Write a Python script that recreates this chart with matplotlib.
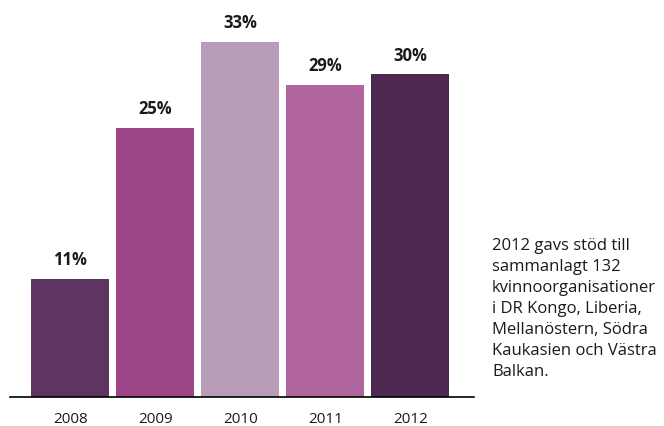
import matplotlib
matplotlib.use('Agg')
import matplotlib.pyplot as plt

years = ['2008', '2009', '2010', '2011', '2012']
shares = [11, 25, 33, 29, 30]
colors = ['#5e3560', '#9c4589', '#b89cb8', '#b0659f', '#4d2850']
note_lines = ["2012 gavs stöd till", "sammanlagt 132", "kvinnoorganisationer",
              "i DR Kongo, Liberia,", "Mellanöstern, Södra",
              "Kaukasien och Västra", "Balkan."]

plt.rcParams['font.family'] = ['Open Sans', 'DejaVu Sans']

fig = plt.figure(figsize=(6.64, 4.26), dpi=100)
ax = fig.add_axes([10 / 664, 29 / 426, 464 / 664, 397 / 426])

x = range(len(years))
bars = ax.bar(x, shares, width=0.92, color=colors)
for b, v in zip(bars, shares):
    ax.annotate(f'{v}%', (b.get_x() + b.get_width() / 2, v), xytext=(0, 7),
                textcoords='offset points', ha='center', va='bottom',
                fontsize=12, fontweight='bold', color='#1a1a1a')

ax.set_xlim(-0.71, 4.75)
ax.set_ylim(0, 36.9)
ax.set_xticks(list(x))
ax.set_xticklabels(years, fontsize=11, color='#1a1a1a')
ax.tick_params(axis='x', length=0, pad=11)
ax.set_yticks([])
for s in ['top', 'right', 'left']:
    ax.spines[s].set_visible(False)
ax.spines['bottom'].set_linewidth(1.2)

# side note, one line every 21 px
for i, line in enumerate(note_lines):
    fig.text(492 / 664, 1 - (246 + 21 * i) / 426, line, ha='left', va='center',
             fontsize=12, color='#1a1a1a')

fig.savefig('out.png', dpi=100)
